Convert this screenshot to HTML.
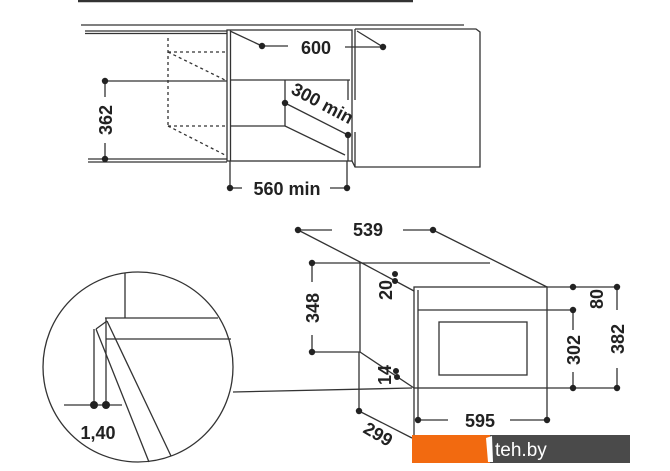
<!DOCTYPE html>
<html><head><meta charset="utf-8"><style>
html,body{margin:0;padding:0;background:#fff;}
svg{display:block;}
text{font-family:"Liberation Sans",sans-serif;font-weight:bold;fill:#222;}
</style></head><body>
<svg width="670" height="471" viewBox="0 0 670 471" xmlns="http://www.w3.org/2000/svg">
<g stroke="#333" stroke-width="1.3" fill="none">
<!-- top diagram -->
<line x1="78" y1="1" x2="413" y2="1" stroke-width="2.5"/>
<line x1="81" y1="25" x2="464" y2="25"/>
<line x1="85" y1="31" x2="227" y2="31"/>
<line x1="85" y1="33.5" x2="227" y2="33.5"/>
<rect x="227" y="30" width="125" height="131"/>
<line x1="230.5" y1="30" x2="230.5" y2="161"/>
<line x1="230" y1="80" x2="350" y2="80"/>
<line x1="348" y1="80" x2="348" y2="100"/>
<line x1="285" y1="80" x2="285" y2="126"/>
<line x1="230" y1="126" x2="285" y2="126"/>
<line x1="285" y1="126" x2="345" y2="155"/>
<line x1="285" y1="103" x2="348" y2="135"/>
<line x1="348" y1="132" x2="348" y2="161"/>
<path d="M355 29 L476 29 L480 32 L480 167 L355 167 L352 161"/>
<line x1="355" y1="29" x2="355" y2="100"/>
<line x1="355" y1="132" x2="355" y2="167"/>
<line x1="230" y1="31" x2="262" y2="46"/>
<line x1="262" y1="46" x2="288" y2="46"/>
<line x1="345" y1="47" x2="383" y2="47"/>
<line x1="357" y1="31" x2="383" y2="47"/>
<g stroke-dasharray="3,3">
<line x1="168" y1="38" x2="168" y2="126"/>
<line x1="168" y1="52" x2="227" y2="52"/>
<line x1="168" y1="126" x2="227" y2="126"/>
<line x1="168" y1="52" x2="227" y2="81"/>
<line x1="168" y1="126" x2="227" y2="156"/>
</g>
<line x1="105" y1="81" x2="227" y2="81"/>
<line x1="88" y1="159" x2="227" y2="159"/>
<line x1="88" y1="162" x2="227" y2="162"/>
<line x1="105" y1="81" x2="105" y2="97"/>
<line x1="105" y1="143" x2="105" y2="159"/>
<line x1="230" y1="161" x2="230" y2="188"/>
<line x1="347" y1="161" x2="347" y2="188"/>
<line x1="230" y1="188" x2="242" y2="188"/>
<line x1="330" y1="188" x2="347" y2="188"/>
<!-- bottom right -->
<line x1="298" y1="230" x2="332" y2="230"/>
<line x1="403" y1="230" x2="433" y2="230"/>
<line x1="298" y1="230" x2="360" y2="262"/>
<line x1="433" y1="230" x2="547" y2="287"/>
<line x1="312" y1="263" x2="490" y2="263"/>
<line x1="360" y1="262" x2="360" y2="352"/>
<line x1="312" y1="352" x2="360" y2="352"/>
<line x1="312" y1="263" x2="312" y2="282"/>
<line x1="312" y1="335" x2="312" y2="352"/>
<line x1="360" y1="262" x2="414" y2="291"/>
<line x1="360" y1="352" x2="414" y2="388"/>
<rect x="414" y="287" width="133" height="101"/>
<line x1="418" y1="290" x2="418" y2="388"/>
<line x1="418" y1="310" x2="547" y2="310"/>
<rect x="439" y="322" width="88" height="53"/>
<line x1="547" y1="287" x2="617" y2="287"/>
<line x1="547" y1="310" x2="573" y2="310"/>
<line x1="547" y1="388" x2="617" y2="388"/>
<line x1="573" y1="330" x2="573" y2="310"/>
<line x1="573" y1="372" x2="573" y2="388"/>
<line x1="617" y1="287" x2="617" y2="310"/>
<line x1="617" y1="368" x2="617" y2="388"/>
<line x1="414" y1="388" x2="414" y2="440"/>
<line x1="418" y1="388" x2="418" y2="420"/>
<line x1="547" y1="388" x2="547" y2="420"/>
<line x1="418" y1="420" x2="448" y2="420"/>
<line x1="510" y1="420" x2="547" y2="420"/>
<line x1="359" y1="352" x2="359" y2="411"/>
<line x1="359" y1="411" x2="412" y2="438"/>
<line x1="233" y1="392" x2="412" y2="388"/>
<!-- circle -->
<circle cx="138" cy="367" r="95"/>
<line x1="125" y1="273" x2="125" y2="318"/>
<line x1="105" y1="318" x2="218" y2="318"/>
<line x1="106" y1="339" x2="231" y2="339"/>
<line x1="106" y1="318" x2="106" y2="405"/>
<line x1="96" y1="329" x2="149" y2="462"/>
<line x1="107" y1="321" x2="171" y2="456"/>
<line x1="96" y1="329" x2="107" y2="321"/>
<line x1="94" y1="329" x2="94" y2="405"/>
<line x1="64" y1="405" x2="122" y2="405"/>
</g>
<g fill="#222">
<circle cx="262" cy="46" r="3.2"/><circle cx="383" cy="47" r="3.2"/>
<circle cx="285" cy="103" r="3.2"/><circle cx="348" cy="135" r="3.2"/>
<circle cx="105" cy="81" r="3.2"/><circle cx="105" cy="159" r="3.2"/>
<circle cx="230" cy="188" r="3.2"/><circle cx="347" cy="188" r="3.2"/>
<circle cx="298" cy="230" r="3.2"/><circle cx="433" cy="230" r="3.2"/>
<circle cx="312" cy="263" r="3.2"/><circle cx="312" cy="352" r="3.2"/>
<circle cx="395" cy="274" r="3"/><circle cx="395" cy="281" r="3"/>
<circle cx="396" cy="371" r="3"/><circle cx="397" cy="377" r="3"/>
<circle cx="573" cy="287" r="3.2"/><circle cx="617" cy="287" r="3.2"/>
<circle cx="573" cy="310" r="3.2"/>
<circle cx="573" cy="388" r="3.2"/><circle cx="617" cy="388" r="3.2"/>
<circle cx="418" cy="420" r="3.2"/><circle cx="547" cy="420" r="3.2"/>
<circle cx="359" cy="411" r="3.2"/>
<circle cx="94" cy="405" r="4"/><circle cx="106" cy="405" r="4"/>
</g>
<g font-size="18">
<text x="316" y="54" text-anchor="middle">600</text>
<text x="287" y="195" text-anchor="middle">560 min</text>
<text transform="translate(112,120) rotate(-90)" text-anchor="middle">362</text>
<text transform="translate(290,93) rotate(28)">300 min</text>
<text x="368" y="236" text-anchor="middle">539</text>
<text transform="translate(319,308) rotate(-90)" text-anchor="middle">348</text>
<text transform="translate(392,290) rotate(-90)" text-anchor="middle">20</text>
<text transform="translate(391,375) rotate(-90)" text-anchor="middle">14</text>
<text transform="translate(603,299) rotate(-90)" text-anchor="middle">80</text>
<text transform="translate(580,350) rotate(-90)" text-anchor="middle">302</text>
<text transform="translate(624,339) rotate(-90)" text-anchor="middle">382</text>
<text x="480" y="427" text-anchor="middle">595</text>
<text transform="translate(362,432) rotate(30)">299</text>
<text x="98" y="439" text-anchor="middle">1,40</text>
</g>
<rect x="412" y="435" width="78" height="28" fill="#f26a10"/>
<rect x="490" y="435" width="140" height="28" fill="#4a4a4a"/>
<path d="M486 438 L492 436 L493 462 L488 462 Z" fill="#fff"/>
<text x="495" y="456" font-size="19" style="fill:#fff;font-weight:normal">teh.by</text>
</svg>
</body></html>
